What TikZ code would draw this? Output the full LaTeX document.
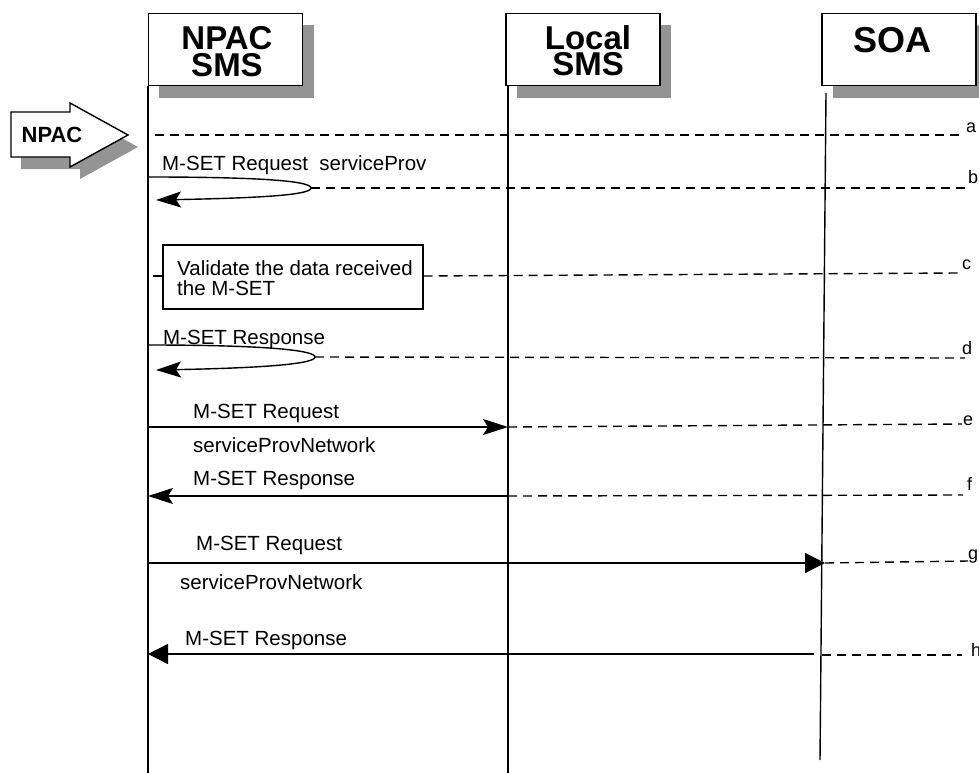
\documentclass[tikz,border=0pt]{standalone}
\usepackage{fontspec}
\setmainfont{Liberation Sans}
\usetikzlibrary{arrows.meta}
\begin{document}
\begin{tikzpicture}[x=1pt,y=-1pt,
  hdr/.style={draw,line width=1.6pt,fill=white,minimum width=154pt,minimum height=72pt,inner sep=0pt},
  shadowbox/.style={fill=black!42,draw=none},
  hdrtext/.style={font=\fontsize{33}{30}\selectfont\bfseries,inner sep=0pt},
  life/.style={line width=1.4pt},
  msg/.style={line width=1.4pt},
  dsh/.style={line width=1.4pt,dash pattern=on 9pt off 6pt},
  lbl/.style={font=\fontsize{20.5}{20}\selectfont,inner sep=0pt},
  endlbl/.style={font=\fontsize{18}{20}\selectfont,inner sep=0pt,anchor=west},
  stl/.style={-{Stealth[length=25pt,width=16pt,inset=5pt]}},
  tri/.style={-{Triangle[length=20pt,width=20pt]}}
]
\useasboundingbox (0,0) rectangle (979,773);

% header shadows
\fill[shadowbox] (159,25) rectangle (314,98);
\fill[shadowbox] (517,25) rectangle (671,98);
\fill[shadowbox] (833,25) rectangle (987,98);

% header boxes
\node[hdr] (npacbox) at (225.5,49.5) {};
\node[hdr] (localbox) at (583,49.5) {};
\node[hdr] (soabox) at (899,49.5) {};
\node[hdrtext,anchor=base] (npact1) at (227,50) {NPAC};
\node[hdrtext,anchor=base] (npact2) at (227,77) {SMS};
\node[hdrtext,anchor=base] (localt1) at (588,50) {Local};
\node[hdrtext,anchor=base] (localt2) at (588,76) {SMS};
\node[hdrtext,anchor=base,font=\fontsize{36}{30}\selectfont\bfseries] (soat) at (892,53) {SOA};

% lifelines
\coordinate (n0) at (148,86);  \coordinate (n1) at (148,773);
\coordinate (l0) at (508,86);  \coordinate (l1) at (508,773);
\coordinate (s0) at (826,93);  \coordinate (s1) at (820,760);
\draw[life] (n0) -- (n1);
\draw[life] (l0) -- (l1);
\draw[life] (s0) -- (s1);

% NPAC block arrow
\fill[black!42] (21,124) -- (80,124) -- (80,115) -- (138,147) -- (80,179) -- (80,169) -- (21,169) -- cycle;
\draw[line width=1.4pt,fill=white] (11,112) -- (70,112) -- (70,103) -- (128,135) -- (70,167) -- (70,157) -- (11,157) -- cycle;
\node[font=\fontsize{22}{22}\selectfont\bfseries,inner sep=0pt] (npacarrow) at (52,135) {NPAC};

% a
\coordinate (a0) at (155,135); \coordinate (a1) at (963,135);
\draw[dsh] (a0) -- (a1);
\node[endlbl] (la) at (966,128) {a};

% b : self loop
\coordinate (b0) at (148,177); \coordinate (bt) at (311,188); \coordinate (b1) at (156,200);
\coordinate (bend) at (968,188);
\draw[msg,stl] (b0) .. controls (260,177) and (311,181) .. (bt) .. controls (311,195) and (260,198) .. (b1);
\draw[dsh] (bt) -- (bend);
\node[lbl,anchor=base west] (lb) at (162,170) {M-SET Request~~serviceProv};
\node[endlbl] (lbb) at (968,177) {b};

% c : validate box
\node[draw,line width=1.4pt,fill=white,minimum width=260pt,minimum height=64pt,inner sep=0pt] (valbox) at (293,277) {};
\node[lbl,anchor=base west] (vt1) at (177,275) {Validate the data received};
\node[lbl,anchor=base west] (vt2) at (177,295) {the M-SET};
\coordinate (c0) at (153,276); \coordinate (c1) at (958,273);
\draw[dsh] (c0) -- (valbox.west |- c0);
\draw[dsh] (valbox.east |- c0) -- (c1);
\node[endlbl] (lc) at (962,265) {c};

% d : self loop
\coordinate (d0) at (148,345); \coordinate (dt) at (315,357); \coordinate (d1) at (156,370);
\coordinate (dend) at (965,358);
\draw[msg,stl] (d0) .. controls (262,345) and (315,350) .. (dt) .. controls (315,364) and (262,368) .. (d1);
\draw[dsh] (dt) -- (dend);
\node[lbl,anchor=base west] (ld) at (163,344) {M-SET Response};
\node[endlbl] (ldd) at (962,348) {d};

% e
\coordinate (e0) at (148,427); \coordinate (e1) at (508,427); \coordinate (eend) at (962,424);
\draw[msg,stl] (e0) -- (e1);
\draw[dsh] (e1) -- (eend);
\node[lbl,anchor=base west] (le1) at (193,418) {M-SET Request};
\node[lbl,anchor=base west] (le2) at (193,452) {serviceProvNetwork};
\node[endlbl] (lee) at (963,421) {e};

% f
\coordinate (f0) at (508,496); \coordinate (f1) at (148,496); \coordinate (fend) at (963,495);
\draw[msg,stl] (f0) -- (f1);
\draw[dsh] (f0) -- (fend);
\node[lbl,anchor=base west] (lf) at (193,485) {M-SET Response};
\node[endlbl] (lff) at (967,484) {f};

% g
\coordinate (g0) at (148,563); \coordinate (g1) at (825,563); \coordinate (gend) at (968,561);
\draw[msg,tri] (g0) -- (g1);
\draw[dsh] (g1) -- (gend);
\node[lbl,anchor=base west] (lg1) at (196,550) {M-SET Request};
\node[lbl,anchor=base west] (lg2) at (180,589) {serviceProvNetwork};
\node[endlbl] (lgg) at (968,557) {g};

% h
\coordinate (h0) at (814,654); \coordinate (h1) at (148,654); \coordinate (hs) at (822,655); \coordinate (hend) at (962,655);
\draw[msg,tri] (h0) -- (h1);
\draw[dsh] (hs) -- (hend);
\node[lbl,anchor=base west] (lh) at (185,645) {M-SET Response};
\node[endlbl] (lhh) at (971,650) {h};
\end{tikzpicture}
\end{document}
